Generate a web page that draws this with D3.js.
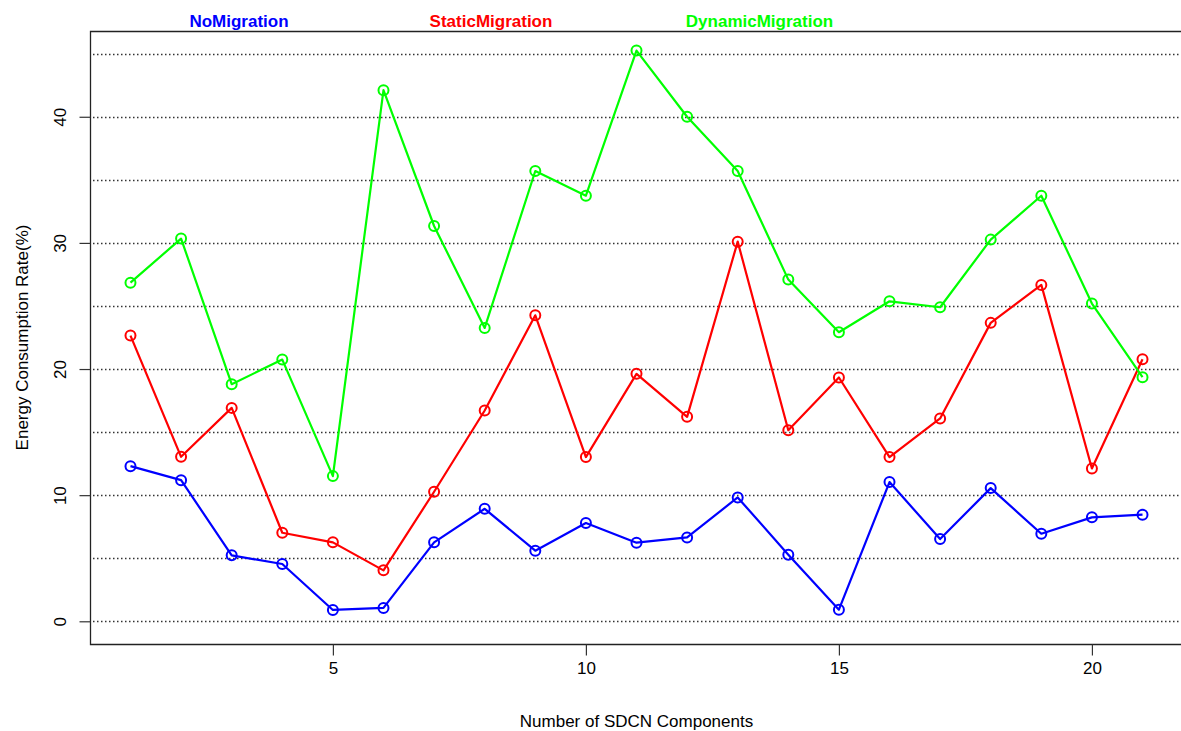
<!DOCTYPE html>
<html>
<head>
<meta charset="utf-8">
<script src="https://cdn.jsdelivr.net/npm/d3@7"></script>
<style>
  html, body { margin: 0; padding: 0; background: #fff; }
  svg { display: block; font-family: "Liberation Sans", Arial, sans-serif; }
</style>
</head>
<body>
<svg id="chart" width="1181" height="731"></svg>
<script>
// Component counts on the x axis
const components = d3.range(1, 22);

// Energy consumption rate (%) per strategy
const noMigration = [12.30, 11.19, 5.23, 4.54, 0.90, 1.06, 6.26, 8.92, 5.60, 7.79, 6.23,
                     6.65, 9.82, 5.28, 0.92, 11.04, 6.52, 10.56, 6.94, 8.24, 8.45];
const staticMigration = [22.65, 13.04, 16.92, 7.02, 6.26, 4.04, 10.27, 16.71, 24.26, 13.02, 19.62,
                         16.21, 30.10, 15.15, 19.33, 13.02, 16.08, 23.66, 26.67, 12.12, 20.78];
const dynamicMigration = [26.85, 30.34, 18.80, 20.75, 11.51, 42.11, 31.34, 23.26, 35.70, 33.74, 45.25,
                          40.00, 35.70, 27.09, 22.92, 25.37, 24.90, 30.26, 33.74, 25.19, 19.35];

const seriesNames = ["NoMigration", "StaticMigration", "DynamicMigration"];
const seriesColors = ["#0000ff", "#ff0000", "#00ff00"];
const seriesValues = [noMigration, staticMigration, dynamicMigration];

const xTicks = [5, 10, 15, 20];
const yTicks = [0, 10, 20, 30, 40];
const gridLevels = d3.range(0, 50, 5);
const yLimits = [0, 45];

const xTitle = "Number of SDCN Components";
const yTitle = "Energy Consumption Rate(%)";

// Plot region
const W = 1181, H = 731;
const plotLeft = 90, plotTop = 31, plotBottom = 644, plotRight = 1183;

// Horizontal centres of the series names printed above the box
const nameCentres = [239, 491, 759.5];

// Axis domains padded by 4% on each side
const xPad = (d3.max(components) - d3.min(components)) * 0.04;
const yPad = (yLimits[1] - yLimits[0]) * 0.04;
const x = d3.scaleLinear()
  .domain([d3.min(components) - xPad, d3.max(components) + xPad])
  .range([plotLeft, plotRight]);
const y = d3.scaleLinear()
  .domain([yLimits[0] - yPad, yLimits[1] + yPad])
  .range([plotBottom, plotTop]);

const svg = d3.select("#chart");

// Horizontal dotted reference lines
svg.append("g")
  .selectAll("line")
  .data(gridLevels)
  .join("line")
  .attr("x1", plotLeft + 3)
  .attr("x2", W)
  .attr("y1", d => Math.round(y(d)) + 0.5)
  .attr("y2", d => Math.round(y(d)) + 0.5)
  .attr("stroke", "#333")
  .attr("stroke-width", 1.3)
  .attr("stroke-dasharray", "1.5,2.5");

// Series lines and open circle markers
const line = d3.line()
  .x((d, i) => x(components[i]))
  .y(d => y(d));

seriesValues.forEach((vals, k) => {
  const g = svg.append("g");
  g.append("path")
    .datum(vals)
    .attr("d", line)
    .attr("fill", "none")
    .attr("stroke", seriesColors[k])
    .attr("stroke-width", 2.2)
    .attr("stroke-linejoin", "round");
  g.selectAll("circle")
    .data(vals)
    .join("circle")
    .attr("cx", (d, i) => x(components[i]))
    .attr("cy", d => y(d))
    .attr("r", 5)
    .attr("fill", "none")
    .attr("stroke", seriesColors[k])
    .attr("stroke-width", 2);
});

// Plot box (left, top, bottom edges; right edge falls at the window border)
svg.append("path")
  .attr("d", `M${W},${plotTop + 0.5}H${plotLeft + 0.5}V${plotBottom + 0.5}H${W}`)
  .attr("fill", "none")
  .attr("stroke", "#222")
  .attr("stroke-width", 1.3);

// X axis
const xAxis = svg.append("g")
  .attr("transform", `translate(0,${plotBottom + 0.5})`)
  .call(d3.axisBottom(x).tickValues(xTicks).tickSize(11).tickPadding(6).tickFormat(d3.format("d")));
xAxis.select(".domain").remove();
xAxis.selectAll(".tick line").attr("stroke", "#333").attr("stroke-width", 1.2);
xAxis.selectAll(".tick text")
  .attr("font-size", 17)
  .attr("font-family", "Liberation Sans, Arial, sans-serif")
  .attr("fill", "#000")
  .attr("dy", "0.71em");

// Y axis with rotated labels
const yAxis = svg.append("g")
  .attr("transform", `translate(${plotLeft + 0.5},0)`)
  .call(d3.axisLeft(y).tickValues(yTicks).tickSize(11).tickFormat(d3.format("d")));
yAxis.select(".domain").remove();
yAxis.selectAll(".tick line").attr("stroke", "#333").attr("stroke-width", 1.2);
yAxis.selectAll(".tick text")
  .attr("font-size", 17)
  .attr("font-family", "Liberation Sans, Arial, sans-serif")
  .attr("fill", "#000")
  .attr("x", null)
  .attr("dy", null)
  .attr("text-anchor", "middle")
  .attr("dominant-baseline", "central")
  .attr("transform", "translate(-30,0) rotate(-90)");

// Axis titles
svg.append("text")
  .attr("x", (plotLeft + W) / 2 + 1)
  .attr("y", 727)
  .attr("text-anchor", "middle")
  .attr("font-size", 17)
  .attr("fill", "#000")
  .text(xTitle);

svg.append("text")
  .attr("transform", `translate(22,${(plotTop + plotBottom) / 2}) rotate(-90)`)
  .attr("text-anchor", "middle")
  .attr("dominant-baseline", "central")
  .attr("font-size", 17)
  .attr("fill", "#000")
  .text(yTitle);

// Series names above the plot, coloured like their lines
svg.append("g")
  .selectAll("text")
  .data(seriesNames)
  .join("text")
  .attr("x", (d, i) => nameCentres[i])
  .attr("y", 27)
  .attr("text-anchor", "middle")
  .attr("font-size", 17)
  .attr("font-weight", "bold")
  .attr("fill", (d, i) => seriesColors[i])
  .text(d => d);
</script>
</body>
</html>
